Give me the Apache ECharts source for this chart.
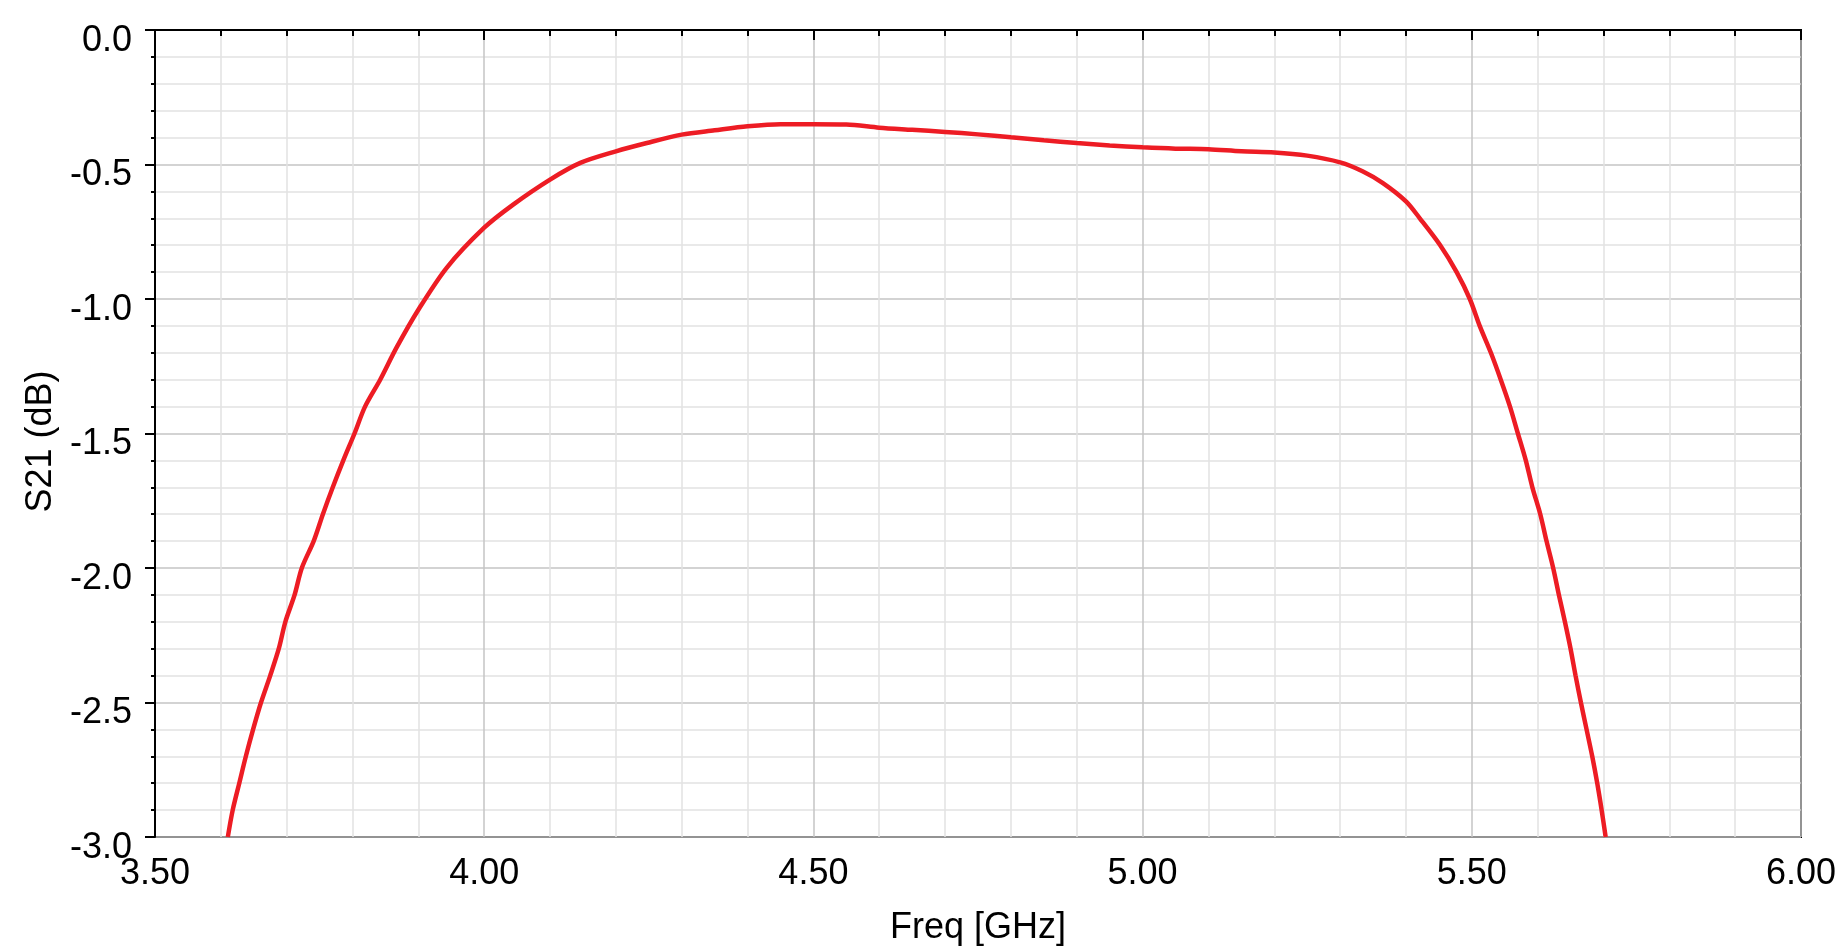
<!DOCTYPE html>
<html>
<head>
<meta charset="utf-8">
<script src="https://cdn.jsdelivr.net/npm/echarts@6/dist/echarts.min.js"></script>
<style>
html,body{margin:0;padding:0;background:#fff;}
#chart{width:1842px;height:951px;}
</style>
</head>
<body>
<div id="chart"></div>
<script>
const freqGHz = [3.6106,3.618,3.628,3.638,3.649,3.661,3.675,3.688,3.698,3.712,3.723,3.741,3.755,3.770,3.786,3.803,3.819,3.842,3.867,3.900,3.943,4.000,4.044,4.100,4.146,4.200,4.247,4.300,4.350,4.400,4.450,4.500,4.550,4.600,4.650,4.700,4.750,4.800,4.850,4.900,4.950,5.000,5.050,5.100,5.150,5.200,5.250,5.300,5.334,5.365,5.400,5.421,5.452,5.477,5.497,5.512,5.529,5.544,5.558,5.570,5.582,5.592,5.604,5.6135,5.6236,5.6323,5.6414,5.650,5.6576,5.6657,5.6743,5.6829,5.6905,5.6972,5.7033];
const s21dB = [-3.0,-2.9,-2.8,-2.7,-2.6,-2.5,-2.4,-2.3,-2.2,-2.1,-2.0,-1.9,-1.8,-1.7,-1.6,-1.5,-1.4,-1.3,-1.18,-1.04,-0.884,-0.735,-0.649,-0.556,-0.494,-0.451,-0.420,-0.389,-0.373,-0.358,-0.350,-0.350,-0.351,-0.363,-0.371,-0.379,-0.388,-0.399,-0.410,-0.420,-0.429,-0.436,-0.441,-0.443,-0.451,-0.455,-0.467,-0.492,-0.525,-0.569,-0.637,-0.70,-0.80,-0.90,-1.0,-1.1,-1.2,-1.3,-1.4,-1.5,-1.6,-1.7,-1.8,-1.9,-2.0,-2.1,-2.2,-2.3,-2.4,-2.5,-2.6,-2.7,-2.8,-2.9,-3.0];
const xAxisTitle = 'Freq [GHz]';
const yAxisTitle = 'S21 (dB)';

const seriesData = freqGHz.map((f, i) => [f, s21dB[i]]);
const FONT = 'Liberation Sans, Arial, sans-serif';

const chart = echarts.init(document.getElementById('chart'), null, {renderer: 'canvas'});
chart.setOption({
  backgroundColor: '#ffffff',
  animation: false,
  grid: {
    left: 155, right: 41, top: 30, bottom: 112,
    show: true, borderColor: '#000000', borderWidth: 2, backgroundColor: 'transparent'
  },
  xAxis: {
    type: 'value', min: 3.5, max: 6.0, interval: 0.5,
    name: xAxisTitle, nameLocation: 'middle', nameGap: 73,
    nameTextStyle: {color: '#000', fontSize: 36, fontFamily: FONT},
    axisLine: {show: true, lineStyle: {color: '#000', width: 2}},
    axisTick: {show: true, length: 10, lineStyle: {color: '#000', width: 2}},
    minorTick: {show: true, splitNumber: 5, length: 6, lineStyle: {color: '#000', width: 2}},
    splitLine: {show: true, lineStyle: {color: '#c4c4c4', width: 1.5}},
    minorSplitLine: {show: true, lineStyle: {color: '#e2e2e2', width: 1.5}},
    axisLabel: {color: '#000', fontSize: 36, fontFamily: FONT, margin: 19,
      formatter: v => v.toFixed(2)}
  },
  yAxis: {
    type: 'value', min: -3, max: 0, interval: 0.5,
    name: yAxisTitle, nameLocation: 'middle', nameGap: 94, nameRotate: 90,
    nameTextStyle: {color: '#000', fontSize: 36, fontFamily: FONT, padding: [0, 16, 0, 0]},
    axisLine: {show: true, lineStyle: {color: '#000', width: 2}},
    axisTick: {show: true, length: 10, lineStyle: {color: '#000', width: 2}},
    minorTick: {show: true, splitNumber: 5, length: 4, lineStyle: {color: '#000', width: 2}},
    splitLine: {show: true, lineStyle: {color: '#c4c4c4', width: 1.5}},
    minorSplitLine: {show: true, lineStyle: {color: '#e2e2e2', width: 1.5}},
    axisLabel: {color: '#000', fontSize: 36, fontFamily: FONT, margin: 23,
      verticalAlign: 'top', lineHeight: 22,
      formatter: v => v.toFixed(1)}
  },
  series: [{
    type: 'line',
    data: seriesData,
    showSymbol: false,
    smooth: 0.3,
    clip: true,
    lineStyle: {color: '#ed1c24', width: 4.5},
    itemStyle: {color: '#ed1c24'}
  }]
});
</script>
</body>
</html>
